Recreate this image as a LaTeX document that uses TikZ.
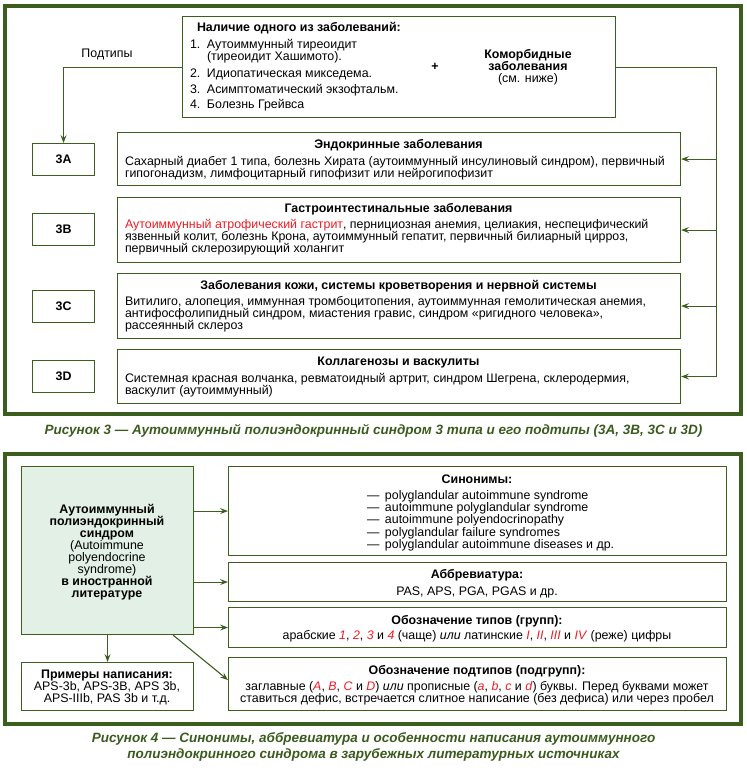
\documentclass[tikz,border=0pt]{standalone}
\usepackage{fontspec}
\setmainfont{Liberation Sans}
\usetikzlibrary{arrows.meta,calc}
\definecolor{frm}{HTML}{3B5E1F}
\definecolor{bx}{HTML}{3D5F1E}
\definecolor{capc}{HTML}{3A5B1D}
\definecolor{rd}{HTML}{ED1C24}
\definecolor{gfill}{HTML}{E2F0E5}
\newcommand\fst{\rule{0pt}{10pt}}
\newcommand\cst{\rule{0pt}{11pt}}
\newcommand\rdi[1]{\textcolor{rd}{\textit{#1}}}
\newcommand\sdash{\makebox[18pt][l]{—}}
\begin{document}
\begin{tikzpicture}[x=1pt,y=-1pt,
  outerframe/.style={draw=frm, line width=4pt},
  panel/.style={draw=bx, line width=1.1pt, inner sep=0pt, anchor=north west},
  txt/.style={inner sep=0pt, outer sep=0pt, font=\fontsize{12.4}{12}\selectfont, align=left},
  ttl/.style={inner sep=0pt, outer sep=0pt, anchor=base, font=\bfseries\fontsize{12.4}{12}\selectfont},
  capt/.style={inner sep=0pt, outer sep=0pt, text=capc, align=center, font=\bfseries\itshape\fontsize{13.5}{16}\selectfont},
  conn/.style={draw=bx, line width=1.1pt},
  arr/.style={conn, -{Stealth[length=8pt,width=6pt,inset=3pt]}},
]
\lineskiplimit=-100pt \lineskip=0pt
\useasboundingbox (0,0) rectangle (747,772);

% ---------------- Figure 3 ----------------
\draw[outerframe] (5,5.5) rectangle (741,414);

\node[panel, minimum width=433pt, minimum height=101pt] (top) at (182,16) {};
\node[txt, anchor=north west] (tt) at (197,21.5) {\fst\textbf{Наличие одного из заболеваний:}};
\node[txt, anchor=north west, font=\fontsize{12.4}{11.5}\selectfont] (i1) at (190,38.5)
  {\fst\makebox[17pt][l]{1.}Аутоиммунный тиреоидит\\\hspace*{17pt}(тиреоидит Хашимото).};
\node[txt, anchor=north west] (i2) at (190,67.5) {\fst\makebox[17pt][l]{2.}Идиопатическая микседема.};
\node[txt, anchor=north west] (i3) at (190,83.5) {\fst\makebox[17pt][l]{3.}Асимптоматический экзофтальм.};
\node[txt, anchor=north west] (i4) at (190,98.5) {\fst\makebox[17pt][l]{4.}Болезнь Грейвса};
\node[inner sep=0pt, font=\bfseries\fontsize{12.4}{12}\selectfont] (plus) at (435,67) {+};
\node[txt, anchor=north, align=center, font=\fontsize{12.4}{12.3}\selectfont] (comorb) at (528,48.3)
  {\fst\textbf{Коморбидные}\\\textbf{заболевания}\\(см. ниже)};
\node[txt, anchor=base] (podt) at (107,57.3) {Подтипы};

\node[panel, minimum width=62pt, minimum height=32pt, font=\bfseries\fontsize{12.4}{12}\selectfont] (A3) at (32,143) {3A};
\node[panel, minimum width=62pt, minimum height=32pt, font=\bfseries\fontsize{12.4}{12}\selectfont] (B3) at (32,213) {3B};
\node[panel, minimum width=62pt, minimum height=32pt, font=\bfseries\fontsize{12.4}{12}\selectfont] (C3) at (32,289.5) {3C};
\node[panel, minimum width=62pt, minimum height=32pt, font=\bfseries\fontsize{12.4}{12}\selectfont] (D3) at (32,360) {3D};

\node[panel, minimum width=563pt, minimum height=53pt] (endo) at (117,132) {};
\node[panel, minimum width=563pt, minimum height=65pt] (gastro) at (117,197) {};
\node[panel, minimum width=563pt, minimum height=65pt] (skin) at (117,273) {};
\node[panel, minimum width=563pt, minimum height=54pt] (coll) at (117,349) {};

\node[ttl] (endot) at (398.5,148) {Эндокринные заболевания};
\node[txt, anchor=north west] (endob) at (125,155.5)
  {\fst Сахарный диабет 1 типа, болезнь Хирата (аутоиммунный инсулиновый синдром), первичный\\гипогонадизм, лимфоцитарный гипофизит или нейрогипофизит};
\node[ttl] (gastrot) at (398.5,212.3) {Гастроинтестинальные заболевания};
\node[txt, anchor=north west] (gastrob) at (125,218.3)
  {\fst\textcolor{rd}{Аутоиммунный атрофический гастрит}, пернициозная анемия, целиакия, неспецифический\\язвенный колит, болезнь Крона, аутоиммунный гепатит, первичный билиарный цирроз,\\первичный склерозирующий холангит};
\node[ttl] (skint) at (398.5,289.3) {Заболевания кожи, системы кроветворения и нервной системы};
\node[txt, anchor=north west] (skinb) at (125,295.5)
  {\fst Витилиго, алопеция, иммунная тромбоцитопения, аутоиммунная гемолитическая анемия,\\антифосфолипидный синдром, миастения гравис, синдром «ригидного человека»,\\рассеянный склероз};
\node[ttl] (collt) at (398.5,365) {Коллагенозы и васкулиты};
\node[txt, anchor=north west] (collb) at (125,372.3)
  {\fst Системная красная волчанка, ревматоидный артрит, синдром Шегрена, склеродермия,\\васкулит (аутоиммунный)};

\draw[arr] (top.west) -| (A3.north);
\coordinate (rt) at ($(top.east)+(100,0)$);
\draw[arr] (top.east) -- (rt) |- (coll.east);
\draw[arr] (rt |- endo.east) -- (endo.east);
\draw[arr] (rt |- gastro.east) -- (gastro.east);
\draw[arr] (rt |- skin.east) -- (skin.east);

\node[capt, anchor=base] (cap1) at (373.5,434.5) {Рисунок 3 — Аутоиммунный полиэндокринный синдром 3 типа и его подтипы (3A, 3B, 3C и 3D)};

% ---------------- Figure 4 ----------------
\draw[outerframe] (5,454) rectangle (741,724);

\node[panel, fill=gfill, minimum width=172pt, minimum height=168pt] (gb) at (21,466) {};
\node[txt, anchor=north, align=center, font=\fontsize{12.4}{12.1}\selectfont] (gbt) at (107,503)
  {\fst\textbf{Аутоиммунный}\\\textbf{полиэндокринный}\\\textbf{синдром}\\(Autoimmune\\polyendocrine\\syndrome)\\\textbf{в иностранной}\\\textbf{литературе}};

\node[panel, minimum width=498pt, minimum height=89pt] (syn) at (228,466) {};
\node[panel, minimum width=498pt, minimum height=39pt] (abbr) at (228,562) {};
\node[panel, minimum width=498pt, minimum height=40pt] (types) at (228,607) {};
\node[panel, minimum width=498pt, minimum height=53pt] (sub) at (228,657) {};
\node[panel, minimum width=172pt, minimum height=48pt] (ex) at (21,662) {};

\node[ttl] (synt) at (477,483.3) {Синонимы:};
\node[txt, anchor=north west, font=\fontsize{12.4}{12.25}\selectfont] (synb) at (367,489.3)
  {\fst\sdash polyglandular autoimmune syndrome\\\sdash autoimmune polyglandular syndrome\\\sdash autoimmune polyendocrinopathy\\\sdash polyglandular failure syndromes\\\sdash polyglandular autoimmune diseases и др.};
\node[ttl] (abbrt) at (477,578.3) {Аббревиатура:};
\node[txt, anchor=base] (abbrb) at (477,595.7) {PAS, APS, PGA, PGAS и др.};
\node[ttl] (typest) at (477,624) {Обозначение типов (групп):};
\node[txt, anchor=base] (typesb) at (477,639.3)
  {арабские \rdi{1}, \rdi{2}, \rdi{3} и \rdi{4} (чаще) \textit{или} латинские \rdi{I}, \rdi{II}, \rdi{III} и \rdi{IV} (реже) цифры};
\node[ttl] (subt) at (477,674) {Обозначение подтипов (подгрупп):};
\node[txt, anchor=north, align=center] (subb) at (477,680.5)
  {\fst заглавные (\rdi{A}, \rdi{B}, \rdi{C} и \rdi{D}) \textit{или} прописные (\rdi{a}, \rdi{b}, \rdi{c} и \rdi{d}) буквы. Перед буквами может\\ставиться дефис, встречается слитное написание (без дефиса) или через пробел};
\node[txt, anchor=north, align=center] (exb) at (107,668.3)
  {\fst\textbf{Примеры написания:}\\APS-3b, APS-3B, APS 3b,\\APS-IIIb, PAS 3b и т.д.};

\draw[arr] (gb.east |- syn.west) -- (syn.west);
\draw[arr] (gb.east |- abbr.west) -- (abbr.west);
\draw[arr] (gb.east |- types.west) -- (types.west);
\draw[arr] ([xshift=-21pt]gb.south east) -- ([yshift=4pt]sub.west);
\draw[arr] (gb.south) -- (ex.north);

\node[capt, anchor=north] (cap2) at (373.5,731.5)
  {\cst Рисунок 4 — Синонимы, аббревиатура и особенности написания аутоиммунного\\полиэндокринного синдрома в зарубежных литературных источниках};
\end{tikzpicture}
\end{document}
